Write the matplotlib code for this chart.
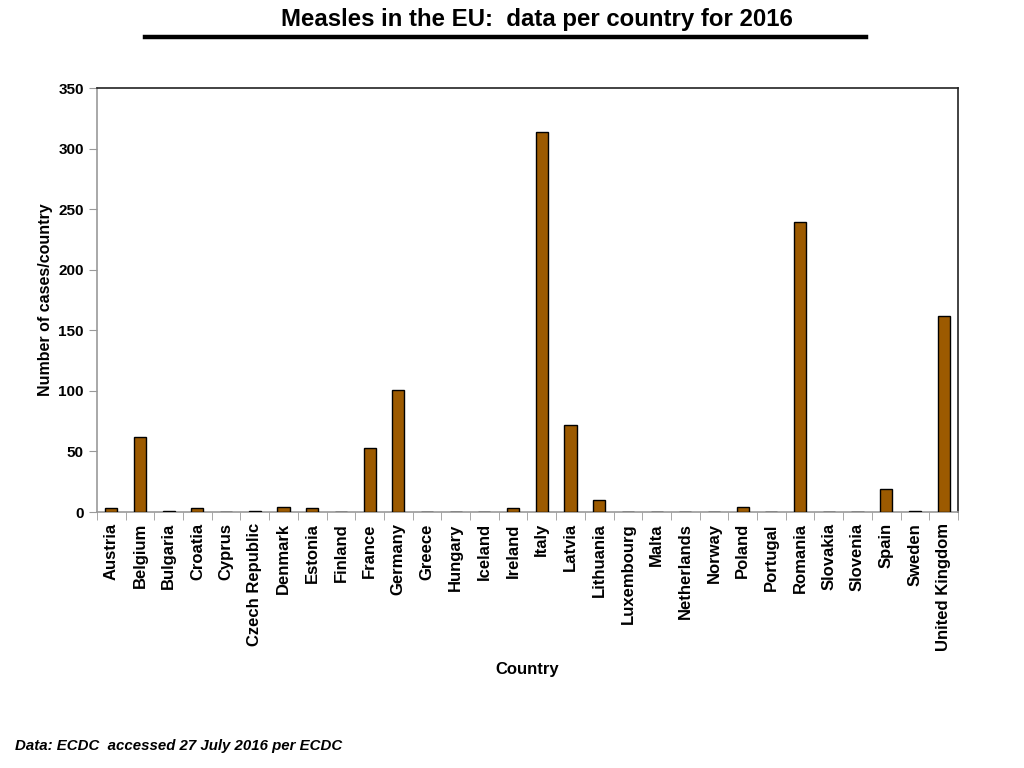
import matplotlib.pyplot as plt
import numpy as np
from matplotlib.lines import Line2D

countries = ['Austria', 'Belgium', 'Bulgaria', 'Croatia', 'Cyprus', 'Czech Republic',
             'Denmark', 'Estonia', 'Finland', 'France', 'Germany', 'Greece', 'Hungary',
             'Iceland', 'Ireland', 'Italy', 'Latvia', 'Lithuania', 'Luxembourg', 'Malta',
             'Netherlands', 'Norway', 'Poland', 'Portugal', 'Romania', 'Slovakia',
             'Slovenia', 'Spain', 'Sweden', 'United Kingdom']
cases = [3, 62, 1, 3, 0, 1, 4, 3, 0, 53, 101, 0, 0, 0, 3, 314, 72, 10, 0, 0,
         0, 0, 4, 0, 239, 0, 0, 19, 1, 162]
y_ticks = [0, 50, 100, 150, 200, 250, 300, 350]

plt.rcParams['font.family'] = ['Liberation Sans', 'DejaVu Sans']

fig = plt.figure(figsize=(10.24, 7.68), dpi=100)
ax = fig.add_axes([0.0947, 0.3333, 0.8408, 0.5521])

x = np.arange(len(countries))
ax.bar(x, cases, width=0.42, color='#9C5A00', edgecolor='black', linewidth=1.0, zorder=3)

ax.set_xlim(-0.5, len(countries) - 0.5)
ax.set_ylim(0, 350)
ax.set_yticks(y_ticks)
ax.set_yticklabels([str(v) for v in y_ticks], fontweight='bold', fontsize=11)

# category labels centred, ticks between categories
ax.set_xticks(x)
ax.set_xticklabels(countries, rotation=90, fontweight='bold', fontsize=12)
ax.tick_params(axis='x', which='major', length=0, pad=8)
ax.set_xticks(np.arange(-0.5, len(countries)), minor=True)
ax.tick_params(axis='x', which='minor', length=6, color='#999999', direction='out')
ax.tick_params(axis='y', length=6, color='#999999', direction='out')

ax.spines['left'].set_color('#999999')
ax.spines['bottom'].set_color('#999999')
ax.spines['top'].set_color('#222222')
ax.spines['right'].set_color('#222222')
for s in ax.spines.values():
    s.set_linewidth(1.2)

ax.set_ylabel('Number of cases/country', fontweight='bold', fontsize=11.5, labelpad=4)
ax.set_xlabel('Country', fontweight='bold', fontsize=12, labelpad=8)

fig.text(0.524, 0.975, 'Measles in the EU:  data per country for 2016',
         ha='center', va='center', fontsize=17.3, fontweight='bold',
         family=['Liberation Sans Narrow', 'Liberation Sans'])
fig.add_artist(Line2D([0.1416, 0.8457], [0.952, 0.952], color='black', linewidth=3.2))

fig.text(0.015, 0.028, 'Data: ECDC  accessed 27 July 2016 per ECDC',
         ha='left', va='center', fontsize=10.8, fontweight='bold', style='italic')

fig.savefig('out.png', dpi=100)
